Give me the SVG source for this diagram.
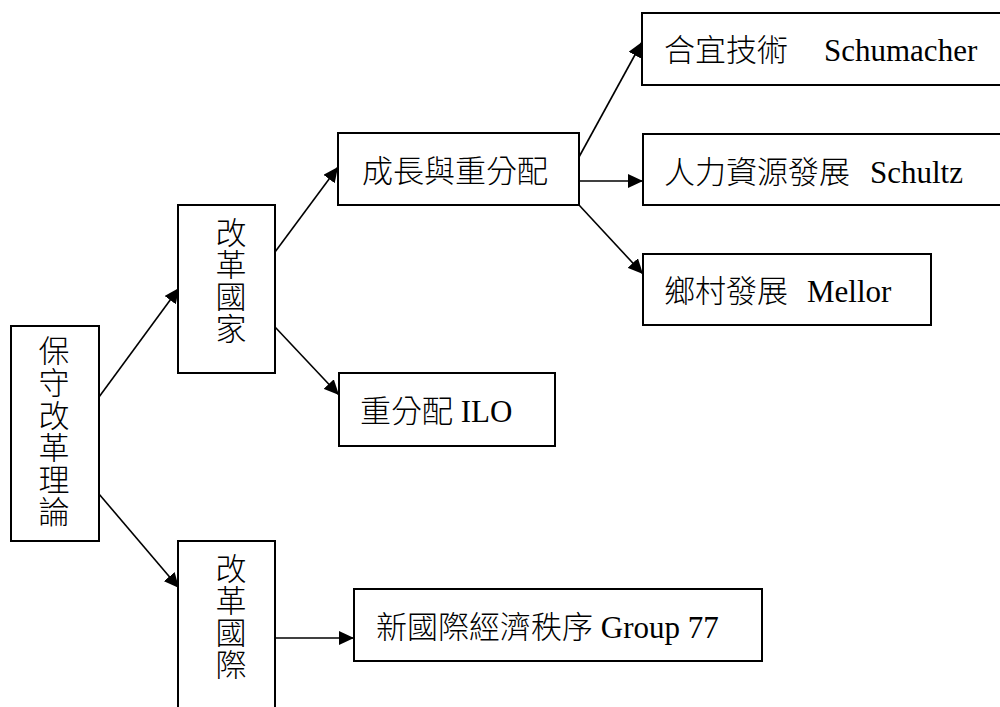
<svg xmlns="http://www.w3.org/2000/svg" width="1000" height="707" viewBox="0 0 1000 707">
<style>
.box{fill:#fff;stroke:#000;stroke-width:2}
.t{font-family:"Liberation Serif","Noto Sans CJK TC",serif;font-size:31px;fill:#000;font-weight:300}
.v{text-anchor:middle}
.c{stroke:#000;stroke-width:1.6;fill:none;marker-end:url(#ah)}
</style>
<defs>
<marker id="ah" markerUnits="userSpaceOnUse" markerWidth="16" markerHeight="14" refX="15" refY="7" orient="auto">
<path d="M0,0 L15,7 L0,14 z" fill="#000"/>
</marker>
</defs>
<rect width="1000" height="707" fill="#fff"/>
<g id="connectors">
<line class="c" x1="99" y1="397" x2="179" y2="288"/>
<line class="c" x1="99" y1="494" x2="179" y2="588"/>
<line class="c" x1="275" y1="252" x2="338" y2="167"/>
<line class="c" x1="275" y1="327" x2="339" y2="395"/>
<line class="c" x1="579" y1="157" x2="642" y2="42"/>
<line class="c" x1="579" y1="181" x2="643" y2="181"/>
<line class="c" x1="579" y1="205" x2="643" y2="274"/>
<line class="c" x1="275" y1="638" x2="354" y2="638"/>
</g>
<g id="n1">
<rect class="box" x="11" y="326" width="88" height="215"/>
<text class="t v"><tspan x="54" y="362">保</tspan><tspan x="54" y="394">守</tspan><tspan x="54" y="427">改</tspan><tspan x="54" y="459">革</tspan><tspan x="54" y="491">理</tspan><tspan x="54" y="523">論</tspan></text>
</g>
<g id="n2">
<rect class="box" x="178" y="205" width="97" height="168"/>
<text class="t v"><tspan x="231" y="244">改</tspan><tspan x="231" y="276">革</tspan><tspan x="231" y="308">國</tspan><tspan x="231" y="340">家</tspan></text>
</g>
<g id="n3">
<rect class="box" x="178" y="541" width="97" height="200"/>
<text class="t v"><tspan x="231" y="580">改</tspan><tspan x="231" y="612">革</tspan><tspan x="231" y="644">國</tspan><tspan x="231" y="676">際</tspan></text>
</g>
<g id="n4">
<rect class="box" x="338" y="133" width="241" height="72"/>
<text class="t" x="362" y="182">成長與重分配</text>
</g>
<g id="n5">
<rect class="box" x="339" y="373" width="216" height="73"/>
<text class="t" x="360" y="422">重分配 ILO</text>
</g>
<g id="n6">
<rect class="box" x="642" y="13" width="362" height="72"/>
<text class="t"><tspan x="664" y="61">合宜技術</tspan><tspan x="824" y="61">Schumacher</tspan></text>
</g>
<g id="n7">
<rect class="box" x="643" y="134" width="362" height="71"/>
<text class="t"><tspan x="664" y="183">人力資源發展</tspan><tspan x="870" y="183">Schultz</tspan></text>
</g>
<g id="n8">
<rect class="box" x="643" y="254" width="288" height="71"/>
<text class="t"><tspan x="664" y="302">鄉村發展</tspan><tspan x="807" y="302">Mellor</tspan></text>
</g>
<g id="n9">
<rect class="box" x="354" y="589" width="408" height="72"/>
<text class="t" x="376" y="638">新國際經濟秩序 Group 77</text>
</g>
</svg>
